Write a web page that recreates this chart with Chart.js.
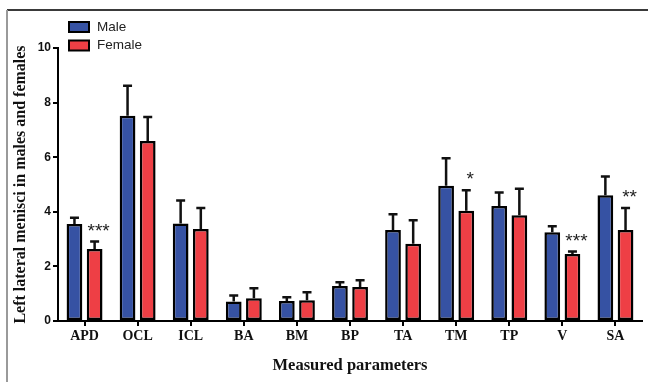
<!DOCTYPE html>
<html><head><meta charset="utf-8">
<script src="https://cdn.jsdelivr.net/npm/chart.js@4.4.1/dist/chart.umd.min.js"></script>
<style>html,body{margin:0;background:#fff}canvas{display:block}</style>
</head><body>
<canvas id="c" width="648" height="382"></canvas>
<script>
// measured parameters of the left lateral menisci, mean + one-sided error bar
const params = ["APD", "OCL", "ICL", "BA", "BM", "BP", "TA", "TM", "TP", "V", "SA"];
const maleMean = [3.55, 7.52, 3.57, 0.71, 0.73, 1.28, 3.33, 4.95, 4.21, 3.25, 4.61];
const maleErr = [0.23, 1.10, 0.84, 0.22, 0.14, 0.14, 0.58, 1.01, 0.50, 0.22, 0.68];
const femaleMean = [2.64, 6.59, 3.37, 0.83, 0.76, 1.25, 2.83, 4.04, 3.87, 2.45, 3.33];
const femaleErr = [0.27, 0.88, 0.77, 0.37, 0.29, 0.24, 0.86, 0.75, 0.97, 0.10, 0.81];
const sigMarks = ["***", "", "", "", "", "", "", "*", "", "***", "**"];
const yTicks = [0, 2, 4, 6, 8, 10];

const BLUE = "#3652a3";
const RED = "#ee3f45";
const SERIF = "'Liberation Serif', 'Times New Roman', serif";
const SANS = "'Liberation Sans', Arial, sans-serif";

// frame lines of the original figure (top + left edge)
const framePlugin = {
  id: "frame",
  beforeDraw(chart) {
    const g = chart.ctx;
    g.save();
    g.strokeStyle = "#3a3a3a";
    g.lineWidth = 2;
    g.beginPath(); g.moveTo(7, 10); g.lineTo(chart.width, 10); g.stroke();
    g.strokeStyle = "#9a9a9a";
    g.beginPath(); g.moveTo(7, 10); g.lineTo(7, chart.height); g.stroke();
    g.restore();
  },
};

// upward error bars with caps, plus the significance stars over the female bars
const errorPlugin = {
  id: "errors",
  afterDatasetsDraw(chart) {
    const g = chart.ctx;
    const y = chart.scales.y;
    const errs = [maleErr, femaleErr];
    g.save();
    g.strokeStyle = "#111";
    g.lineWidth = 2.5;
    chart.data.datasets.forEach((ds, di) => {
      chart.getDatasetMeta(di).data.forEach((bar, i) => {
        const top = y.getPixelForValue(ds.data[i] + errs[di][i]);
        g.beginPath();
        g.moveTo(bar.x, bar.y);
        g.lineTo(bar.x, top);
        g.moveTo(bar.x - 4.5, top);
        g.lineTo(bar.x + 4.5, top);
        g.stroke();
      });
    });
    g.fillStyle = "#222";
    g.font = "19px " + SANS;
    g.textAlign = "center";
    g.textBaseline = "middle";
    chart.getDatasetMeta(1).data.forEach((bar, i) => {
      if (!sigMarks[i]) return;
      const top = y.getPixelForValue(femaleMean[i] + femaleErr[i]);
      g.fillText(sigMarks[i], bar.x + 4, top - 10);
    });
    g.restore();
  },
};

// stacked legend up in the top-left corner
const legendPlugin = {
  id: "stackLegend",
  afterDraw(chart) {
    const g = chart.ctx;
    g.save();
    g.font = "13.5px " + SANS;
    g.textBaseline = "middle";
    chart.data.datasets.forEach((ds, i) => {
      const cy = 27 + i * 18.5;
      g.fillStyle = ds.backgroundColor;
      g.fillRect(69, cy - 5, 20, 10);
      g.strokeStyle = "#000";
      g.lineWidth = 2;
      g.strokeRect(69, cy - 5, 20, 10);
      g.fillStyle = "#222";
      g.fillText(ds.label, 97, cy);
    });
    g.restore();
  },
};

new Chart(document.getElementById("c"), {
  type: "bar",
  data: {
    labels: params,
    datasets: [
      { label: "Male", data: maleMean, backgroundColor: BLUE },
      { label: "Female", data: femaleMean, backgroundColor: RED },
    ],
  },
  options: {
    responsive: false,
    animation: false,
    devicePixelRatio: 1,
    layout: { padding: { top: 48, right: 6, left: 0, bottom: 0 } },
    datasets: {
      bar: {
        borderColor: "#000",
        borderWidth: 2.5,
        borderSkipped: false,
        categoryPercentage: 0.76,
        barPercentage: 0.78,
      },
    },
    plugins: { legend: { display: false }, tooltip: { enabled: false } },
    scales: {
      x: {
        afterFit: (s) => { s.height = 61; },
        grid: { display: true, drawOnChartArea: false, offset: false, color: "#000", lineWidth: 2, tickLength: 5 },
        border: { color: "#000", width: 2 },
        ticks: { color: "#111", padding: 2, font: { family: SERIF, size: 14, weight: "bold" } },
        title: {
          display: true, text: "Measured parameters", color: "#111",
          font: { family: SERIF, size: 16.5, weight: "bold" }, padding: { top: 0, bottom: 6 },
        },
      },
      y: {
        min: 0, max: 10,
        afterFit: (s) => { s.width = 58; },
        afterBuildTicks: (s) => { s.ticks = yTicks.map((v) => ({ value: v })); },
        grid: { display: true, drawOnChartArea: false, color: "#000", lineWidth: 2, tickLength: 5 },
        border: { color: "#000", width: 2 },
        ticks: { color: "#111", padding: 2, font: { family: SANS, size: 12, weight: "bold" } },
        title: {
          display: true, text: "Left lateral menisci in males and females", color: "#111",
          font: { family: SERIF, size: 16, weight: "bold" }, padding: { top: 11, bottom: 0 },
        },
      },
    },
  },
  plugins: [framePlugin, errorPlugin, legendPlugin],
});
</script>
</body></html>
